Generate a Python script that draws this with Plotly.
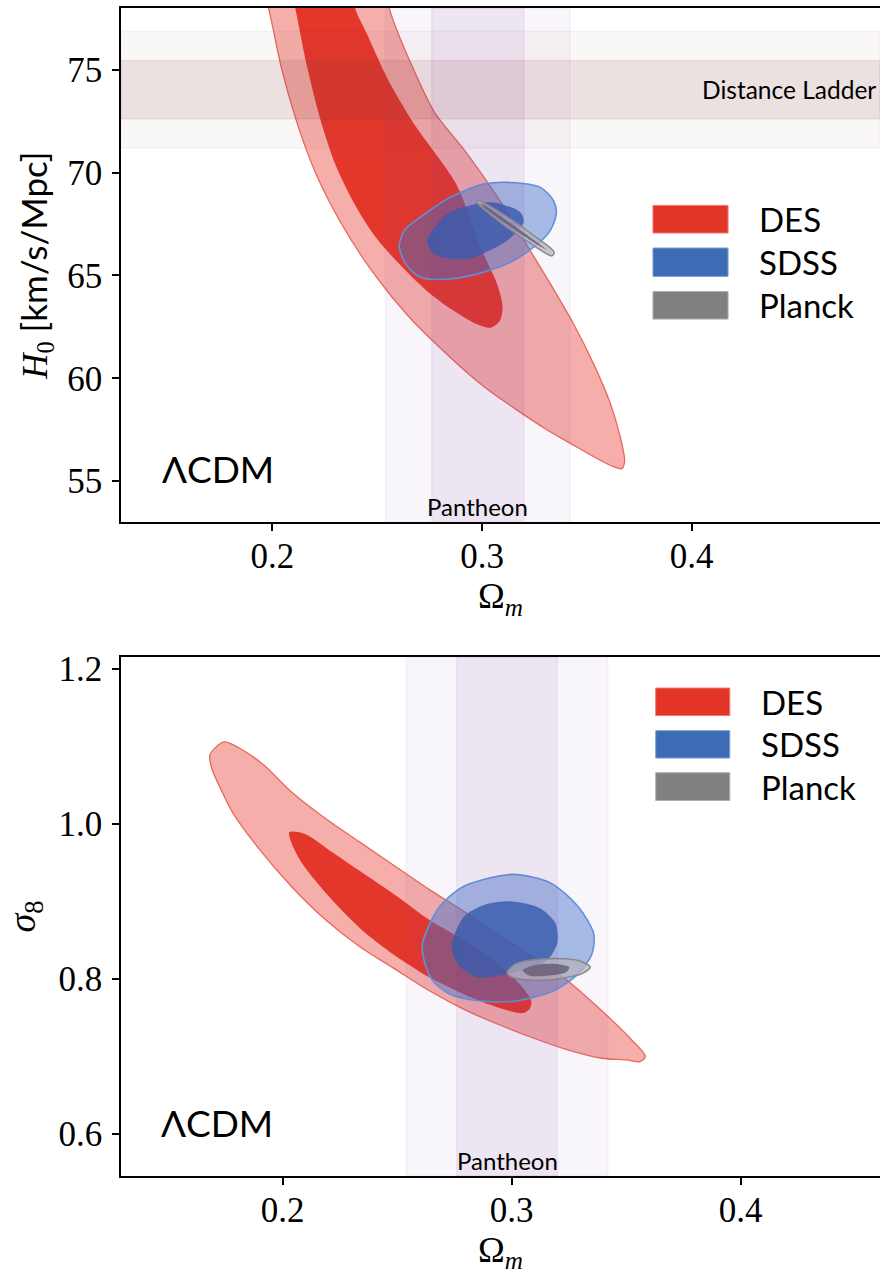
import plotly.graph_objects as go

# ---------------- data ----------------
# Top panel: Omega_m vs H0
des_h0_outer_om = [0.1955, 0.1984, 0.2045, 0.2115, 0.2205, 0.2330, 0.2490, 0.2650, 0.2850, 0.3008,
                   0.3167, 0.3309, 0.3436, 0.3548, 0.3627, 0.3667, 0.3680, 0.3659, 0.3611, 0.3532, 0.3436,
                   0.3325, 0.3230, 0.3087, 0.2915, 0.2775, 0.2665, 0.2560, 0.2540]
des_h0_outer_h0 = [79.0, 77.9, 75.0, 72.5, 70.0, 67.5, 65.0, 63.0, 61.0, 59.6,
                   58.45, 57.5, 56.75, 56.1, 55.7, 55.6, 56.0, 57.15, 58.8, 60.7, 62.65,
                   64.6, 66.2, 68.6, 71.1, 72.9, 75.2, 77.9, 79.0]
des_h0_inner_om = [0.2090, 0.2111, 0.2167, 0.2230, 0.2300, 0.2389, 0.2490, 0.2620, 0.2754, 0.2865, 0.2960,
                   0.3040, 0.3085, 0.3098, 0.3071, 0.3000, 0.2879, 0.2768, 0.2680, 0.2548, 0.2452, 0.2397, 0.2375]
des_h0_inner_h0 = [79.0, 77.92, 75.08, 72.54, 70.4, 68.52, 66.89, 65.4, 64.1, 63.28, 62.70,
                   62.46, 62.8, 63.5, 64.6, 66.2, 69.4, 71.06, 72.3, 74.59, 76.72, 77.92, 79.0]
sdss_h0_outer_om = [0.2605, 0.2630, 0.2706, 0.2849, 0.3008, 0.3135, 0.3278, 0.3341, 0.3354, 0.3325, 0.3246,
                    0.3135, 0.3008, 0.2849, 0.2706, 0.2640]
sdss_h0_outer_h0 = [66.4, 67.2, 67.83, 68.8, 69.44, 69.52, 69.28, 68.63, 67.99, 67.18, 66.37,
                    65.64, 65.16, 64.83, 64.91, 65.5]
sdss_h0_inner_om = [0.2738, 0.2833, 0.2940, 0.3056, 0.3183, 0.3198, 0.3119, 0.2928, 0.2770]
sdss_h0_inner_h0 = [66.69, 67.99, 68.4, 68.55, 68.07, 67.58, 66.69, 65.80, 66.05]
planck_h0_outer_om = [0.2976, 0.3087, 0.3246, 0.3344, 0.3333, 0.3246, 0.3087, 0.2979]
planck_h0_outer_h0 = [68.67, 68.07, 66.94, 66.13, 65.95, 66.45, 67.58, 68.50]
planck_h0_inner_om = [0.3000, 0.3246, 0.3309, 0.3246, 0.3008]
planck_h0_inner_h0 = [68.47, 66.73, 66.24, 66.61, 68.31]

# Bottom panel: Omega_m vs sigma_8
des_s8_outer_om = [0.1683, 0.1744, 0.1811, 0.1917, 0.2038, 0.2189, 0.2339, 0.2490, 0.2641, 0.2792, 0.2943,
                   0.3094, 0.3244, 0.3395, 0.3516, 0.3584, 0.3561, 0.3501, 0.3395, 0.3244, 0.3094, 0.2943,
                   0.2792, 0.2641, 0.2490, 0.2339, 0.2189, 0.2038, 0.1887, 0.1781, 0.1736, 0.1691]
des_s8_outer_s8 = [1.0891, 1.1057, 1.0978, 1.0761, 1.0413, 1.0065, 0.9761, 0.9457, 0.9152, 0.8870, 0.8565,
                   0.8283, 0.7978, 0.7587, 0.7239, 0.7000, 0.6935, 0.6957, 0.6978, 0.7087, 0.7239, 0.7413,
                   0.7609, 0.7848, 0.8130, 0.8413, 0.8761, 0.9196, 0.9717, 1.0152, 1.0413, 1.0717]
des_s8_inner_om = [0.2030, 0.2098, 0.2219, 0.2370, 0.2520, 0.2641, 0.2792, 0.2943, 0.3048, 0.3086, 0.3080,
                   0.3050, 0.2943, 0.2792, 0.2641, 0.2490, 0.2339, 0.2189, 0.2083, 0.2038]
des_s8_inner_s8 = [0.9891, 0.9870, 0.9630, 0.9326, 0.9022, 0.8761, 0.8500, 0.8196, 0.7891, 0.7717, 0.7620,
                   0.7560, 0.7630, 0.7804, 0.8022, 0.8304, 0.8652, 0.9109, 0.9500, 0.9761]
sdss_s8_outer_om = [0.2611, 0.2686, 0.2792, 0.3003, 0.3169, 0.3290, 0.3358, 0.3351, 0.3290, 0.3184, 0.3018,
                    0.2867, 0.2731, 0.2656, 0.2618]
sdss_s8_outer_s8 = [0.8457, 0.8935, 0.9196, 0.9348, 0.9239, 0.8935, 0.8587, 0.8326, 0.8065, 0.7848, 0.7717,
                    0.7717, 0.7804, 0.7978, 0.8239]
sdss_s8_inner_om = [0.2739, 0.2792, 0.2882, 0.3003, 0.3124, 0.3192, 0.3199, 0.3154, 0.3063, 0.2943, 0.2852,
                    0.2777, 0.2743]
sdss_s8_inner_s8 = [0.8457, 0.8804, 0.8957, 0.9000, 0.8913, 0.8717, 0.8457, 0.8239, 0.8130, 0.8043, 0.8022,
                    0.8152, 0.8326]
planck_s8_outer_om = [0.2980, 0.3018, 0.3154, 0.3290, 0.3343, 0.3305, 0.3154, 0.3033, 0.2988]
planck_s8_outer_s8 = [0.8087, 0.8196, 0.8261, 0.8239, 0.8152, 0.8065, 0.7987, 0.8000, 0.8043]
planck_s8_inner_om = [0.3048, 0.3094, 0.3184, 0.3252, 0.3237, 0.3154, 0.3078]
planck_s8_inner_s8 = [0.8109, 0.8174, 0.8196, 0.8152, 0.8087, 0.8043, 0.8043]

# External priors (mean, sigma)
pantheon_om = [0.298, 0.022]
ladder_h0 = [74.03, 1.42]

# Axis ticks / labels
top_xticks = [0.2, 0.3, 0.4]
top_yticks = [55, 60, 65, 70, 75]
bot_xticks = [0.2, 0.3, 0.4]
bot_yticks = [0.6, 0.8, 1.0, 1.2]
bot_yticklabels = ["0.6", "0.8", "1.0", "1.2"]
legend_labels = ["DES", "SDSS", "Planck"]
legend_colors = ["rgb(227,52,40)", "rgb(62,108,180)", "rgb(128,128,128)"]
legend_edges = ["rgb(240,120,110)", "rgb(120,160,215)", "rgb(175,175,175)"]

# ---------------- styling ----------------
SERIF = "Liberation Serif"
SANS = "Lato"
DES_OUT = "rgba(232,62,50,0.42)"
DES_OUT_LINE = "rgb(234,104,92)"
DES_IN = "rgba(225,48,36,0.95)"
SDSS_OUT = "rgba(60,115,205,0.45)"
SDSS_OUT_LINE = "rgb(95,150,220)"
SDSS_IN = "rgba(48,96,176,0.82)"
PL_OUT = "rgba(185,185,192,0.75)"
PL_OUT_LINE = "rgb(140,140,140)"
PL_IN = "rgba(105,105,118,0.9)"

fig = go.Figure()


def poly(x, y, fill, line_color=None, line_width=0.0, xa="x", ya="y"):
    fig.add_trace(go.Scatter(
        x=x + [x[0]], y=y + [y[0]], mode="lines", fill="toself", fillcolor=fill,
        line=dict(color=line_color or "rgba(0,0,0,0)", width=line_width, shape="spline", smoothing=0.8),
        xaxis=xa, yaxis=ya, hoverinfo="skip", showlegend=False))


# top panel contours
poly(des_h0_outer_om, des_h0_outer_h0, DES_OUT, DES_OUT_LINE, 1.3)
poly(des_h0_inner_om, des_h0_inner_h0, DES_IN)
poly(sdss_h0_outer_om, sdss_h0_outer_h0, SDSS_OUT, SDSS_OUT_LINE, 1.6)
poly(sdss_h0_inner_om, sdss_h0_inner_h0, SDSS_IN)
poly(planck_h0_outer_om, planck_h0_outer_h0, PL_OUT, PL_OUT_LINE, 1.5)
poly(planck_h0_inner_om, planck_h0_inner_h0, PL_IN)

# bottom panel contours
poly(des_s8_outer_om, des_s8_outer_s8, DES_OUT, DES_OUT_LINE, 1.3, "x2", "y2")
poly(des_s8_inner_om, des_s8_inner_s8, DES_IN, None, 0, "x2", "y2")
poly(sdss_s8_outer_om, sdss_s8_outer_s8, SDSS_OUT, SDSS_OUT_LINE, 1.6, "x2", "y2")
poly(sdss_s8_inner_om, sdss_s8_inner_s8, SDSS_IN, None, 0, "x2", "y2")
poly(planck_s8_outer_om, planck_s8_outer_s8, PL_OUT, PL_OUT_LINE, 1.5, "x2", "y2")
poly(planck_s8_inner_om, planck_s8_inner_s8, PL_IN, None, 0, "x2", "y2")

shapes = []
annotations = []

# Pantheon vertical bands (both panels)
for xa, ya in [("x", "y"), ("x2", "y2")]:
    m, s = pantheon_om
    shapes.append(dict(type="rect", xref=xa, yref=f"{ya} domain", x0=m - 2 * s, x1=m + 2 * s, y0=0, y1=1,
                       fillcolor="rgba(128,64,160,0.047)", line=dict(color="rgba(128,64,160,0.06)", width=1.5),
                       layer="above"))
    shapes.append(dict(type="rect", xref=xa, yref=f"{ya} domain", x0=m - s, x1=m + s, y0=0, y1=1,
                       fillcolor="rgba(128,64,160,0.091)", line=dict(color="rgba(128,64,160,0.08)", width=1.5),
                       layer="above"))
    annotations.append(dict(text="Pantheon", x=m, xref=xa, y=0, yref=f"{ya} domain", xanchor="center",
                            yanchor="bottom", yshift=-1, showarrow=False,
                            font=dict(family=SANS, size=24, color="black")))

# Distance ladder horizontal band (top panel)
m, s = ladder_h0
shapes.append(dict(type="rect", xref="x domain", yref="y", x0=0, x1=1, y0=m - 2 * s, y1=m + 2 * s,
                   fillcolor="rgba(140,60,60,0.043)", line=dict(color="rgba(140,60,60,0.05)", width=1.5),
                   layer="above"))
shapes.append(dict(type="rect", xref="x domain", yref="y", x0=0, x1=1, y0=m - s, y1=m + s,
                   fillcolor="rgba(140,60,60,0.119)", line=dict(color="rgba(140,60,60,0.08)", width=1.5),
                   layer="above"))
annotations.append(dict(text="Distance Ladder", x=0.997, xref="x domain", y=m, yref="y", xanchor="right",
                        yanchor="middle", showarrow=False, font=dict(family=SANS, size=24.5, color="black")))

# LCDM labels
annotations.append(dict(text="ΛCDM", x=0.051, xref="x domain", y=0.104, yref="y domain", xanchor="left",
                        yanchor="middle", showarrow=False, font=dict(family=SANS, size=37, color="black")))
annotations.append(dict(text="ΛCDM", x=0.050, xref="x2 domain", y=0.104, yref="y2 domain", xanchor="left",
                        yanchor="middle", showarrow=False, font=dict(family=SANS, size=37, color="black")))

# manual legends (patch + label)
legend_layout = [
    ("x", "y", 0.7009, 0.7998, [(0.5625, 0.6162), (0.4780, 0.5333), (0.3951, 0.4488)], 0.838),
    ("x2", "y2", 0.7045, 0.8021, [(0.8873, 0.9403), (0.8054, 0.8582), (0.7237, 0.7771)], 0.8404),
]
for xa, ya, px0, px1, rows, tx in legend_layout:
    for lab, col, edge, (py0, py1) in zip(legend_labels, legend_colors, legend_edges, rows):
        shapes.append(dict(type="rect", xref=f"{xa} domain", yref=f"{ya} domain", x0=px0, x1=px1, y0=py0, y1=py1,
                           fillcolor=col, line=dict(color=edge, width=1), layer="above"))
        annotations.append(dict(text=lab, x=tx, xref=f"{xa} domain", y=(py0 + py1) / 2, yref=f"{ya} domain",
                                xanchor="left", yanchor="middle", showarrow=False,
                                font=dict(family=SANS, size=33, color="black")))

axis_common = dict(showgrid=False, zeroline=False, showline=True, linecolor="black", linewidth=1.5,
                   ticks="outside", ticklen=7, tickwidth=1.5, tickcolor="black", automargin=False,
                   tickfont=dict(family=SERIF, size=35, color="black"))

fig.update_layout(
    width=880, height=1279,
    margin=dict(l=121, r=0, t=8, b=103, autoexpand=False),
    plot_bgcolor="white", paper_bgcolor="white",
    showlegend=False,
    shapes=shapes, annotations=annotations,
    xaxis=dict(axis_common, domain=[0, 1], range=[0.1278, 0.4898], anchor="y", mirror=True,
               tickvals=top_xticks, ticktext=[str(v) for v in top_xticks], ticklabelstandoff=-5,
               title=dict(text="Ω<sub><i>m</i></sub>", font=dict(family=SERIF, size=36, color="black"),
                          standoff=5)),
    yaxis=dict(axis_common, domain=[0.5597, 1.0], range=[53, 78], anchor="x",
               tickvals=top_yticks, ticktext=[str(v) for v in top_yticks], ticklabelstandoff=3,
               title=dict(text="<i>H</i><sub>0</sub> <span style='font-family:Lato'>[km/s/Mpc]</span>",
                          font=dict(family=SERIF, size=35, color="black"), standoff=9)),
    xaxis2=dict(axis_common, domain=[0, 1], range=[0.1295, 0.4608], anchor="y2", mirror=True,
                tickvals=bot_xticks, ticktext=[str(v) for v in bot_xticks], ticklabelstandoff=-5,
                title=dict(text="Ω<sub><i>m</i></sub>", font=dict(family=SERIF, size=36, color="black"),
                           standoff=3)),
    yaxis2=dict(axis_common, domain=[0, 0.4443], range=[0.546, 1.215], anchor="x2",
                tickvals=bot_yticks, ticktext=bot_yticklabels, ticklabelstandoff=3,
                title=dict(text="<i>σ</i><sub>8</sub>", font=dict(family=SERIF, size=38, color="black"),
                           standoff=11)),
)

fig.write_html("out.html", config={"displayModeBar": False},
               post_script="document.body.style.margin='0px';")
